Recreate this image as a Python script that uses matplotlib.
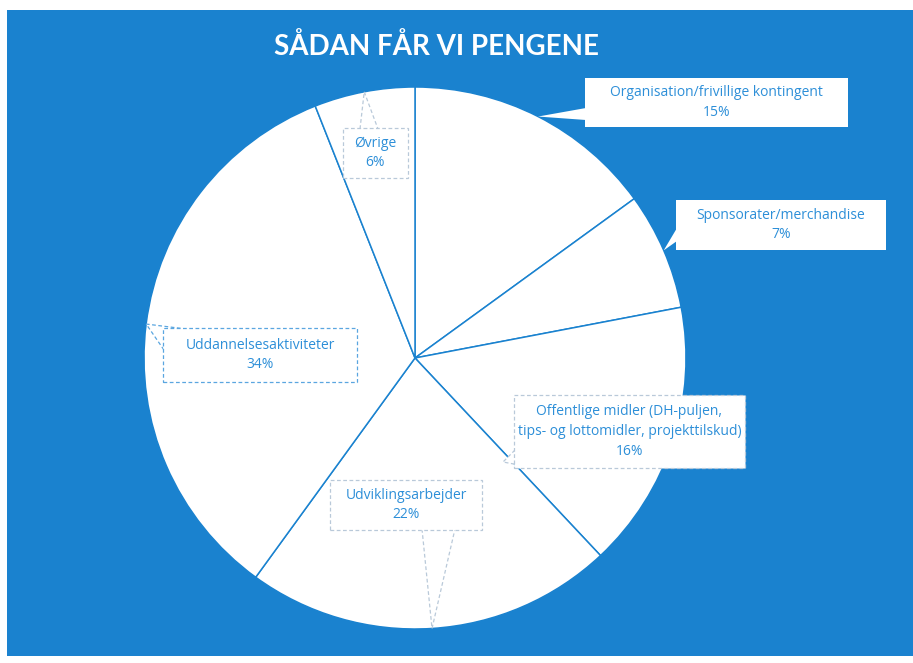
import matplotlib
matplotlib.use('Agg')
import numpy as np
from matplotlib import pyplot as plt
from matplotlib.patches import Rectangle, Polygon


categories = [
	'Organisation/frivillige kontingent',
	'Sponsorater/merchandise',
	'Offentlige midler (DH-puljen,\ntips- og lottomidler, projekttilskud)',
	'Udviklingsarbejder',
	'Uddannelsesaktiviteter',
	'Øvrige',
]
shares = [15, 7, 16, 22, 34, 6]
title = 'SÅDAN FÅR VI PENGENE'

blue = '#1a82cf'
text_blue = '#2d8fd8'
W, H = 913, 663

# callout boxes, pixel coords from the top left: x0, y0, x1, y1
boxes = [
	(585, 78, 848, 127),
	(676, 200, 886, 250),
	(514, 395, 745, 468),
	(330, 480, 482, 530),
	(163, 328, 357, 382),
	(343, 128, 408, 178),
]
# two points on the box edge where the tail starts
tail_bases = [
	((586, 108), (586, 120)),
	((677, 228), (677, 241)),
	((515, 450), (530, 467)),
	((422, 529), (455, 529)),
	((164, 350), (186, 329)),
	((360, 129), (378, 129)),
]
framed = [False, False, True, True, True, True]


def flip(p):
	return (p[0], H - p[1])


def main():
	plt.rcParams['font.family'] = ['Open Sans', 'DejaVu Sans']
	fig = plt.figure(figsize=(W / 100, H / 100), dpi=100)
	fig.patch.set_facecolor('white')
	ax = fig.add_axes([0, 0, 1, 1])

	ax.add_patch(Rectangle((7, H - 656), W - 7, 646, facecolor=blue, edgecolor='none', zorder=0))

	center = (415, H - 358)
	radius = 271
	wedges, _ = ax.pie(shares, center=center, radius=radius, startangle=90, counterclock=False,
		colors=['white'] * len(shares),
		wedgeprops=dict(edgecolor=blue, linewidth=1.1, zorder=1))

	for i, w in enumerate(wedges):
		mid = np.deg2rad((w.theta1 + w.theta2) / 2)
		tip = (center[0] + radius * np.cos(mid), center[1] + radius * np.sin(mid))
		if i == 2:
			tip = (503, H - 462)
		x0, y0, x1, y1 = boxes[i]
		ec = '#b9c9d9' if framed[i] else 'none'
		if i == 4:
			ec = '#5aa6e0'
		b0, b1 = tail_bases[i]
		ax.add_patch(Polygon([flip(b0), tip, flip(b1)], closed=True, facecolor='white',
			edgecolor=ec, linewidth=0.9, linestyle=(0, (3, 2)), zorder=3))
		ax.add_patch(Rectangle((x0, H - y1), x1 - x0, y1 - y0, facecolor='white',
			edgecolor=ec, linewidth=0.9, linestyle=(0, (3, 2)), zorder=4))
		ax.text((x0 + x1) / 2, H - (y0 + y1) / 2, '%s\n%d%%' % (categories[i], shares[i]),
			ha='center', va='center', fontsize=10, color=text_blue, linespacing=1.45, zorder=5)

	ax.text(437, H - 47, title, ha='center', va='center', fontsize=20, fontweight='bold',
		color='white', family=['Lato', 'DejaVu Sans'], zorder=5)

	ax.set_xlim(0, W)
	ax.set_ylim(0, H)
	ax.set_aspect('auto')
	ax.axis('off')

	plt.savefig('out.png', dpi=100)


if __name__ == "__main__":
	main()
